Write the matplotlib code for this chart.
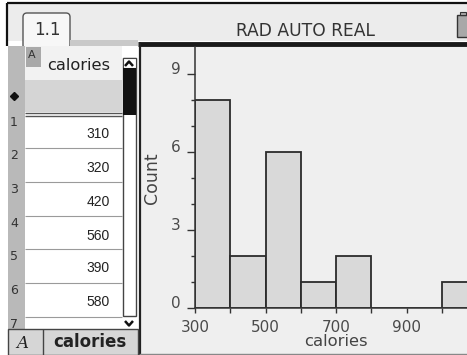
import matplotlib
matplotlib.use("Agg")
import matplotlib.pyplot as plt
from matplotlib.patches import Rectangle, FancyBboxPatch

# histogram data (calories, bin width 100)
bin_edges = [300, 400, 500, 600, 700, 800, 900, 1000, 1100]
counts = [8, 2, 6, 1, 2, 0, 0, 1]
x_ticks = [300, 500, 700, 900]
x_minor = [400, 600, 800, 1000]
y_ticks = [0, 3, 6, 9]
y_minor = [1, 2, 4, 5, 7, 8]

# spreadsheet rows visible on screen
row_ids = [1, 2, 3, 4, 5, 6, 7]
calories_shown = [310, 320, 420, 560, 390, 580]

W, H = 467, 355
fig = plt.figure(figsize=(W / 100, H / 100), dpi=100)

# pixel-space layer for the handheld screen chrome
ui = fig.add_axes([0, 0, 1, 1])
ui.set_xlim(0, W)
ui.set_ylim(H, 0)
ui.axis("off")


def box(x0, y0, x1, y1, fc, ec="none", lw=0, z=1):
    ui.add_patch(Rectangle((x0, y0), x1 - x0, y1 - y0, facecolor=fc,
                           edgecolor=ec, linewidth=lw, zorder=z))


def line(xs, ys, c="#333333", lw=1.0, z=3):
    ui.plot(xs, ys, color=c, linewidth=lw, zorder=z, solid_capstyle="butt")


# top status bar
box(8, 4, W, 41, "#ececec")
line([7, W], [3, 3], c="#111111", lw=1.6)
line([7, 7], [3, 46], c="#111111", lw=1.6)
ui.add_patch(FancyBboxPatch((23, 13), 47, 36, boxstyle="round,pad=0,rounding_size=4",
                            facecolor="#f7f7f7", edgecolor="#555555", linewidth=1.0, zorder=2))
ui.text(47, 30, "1.1", ha="center", va="center", fontsize=12, color="#333333", zorder=4)
ui.text(305, 31, "RAD AUTO REAL", ha="center", va="center", fontsize=12.3,
        color="#333333", zorder=4)
box(457, 15, 472, 37, "#a8a8a8", ec="#333333", lw=1.0, z=2)
box(460, 12, 466, 15, "#a8a8a8", ec="#333333", lw=0.8, z=2)
box(70, 40, 138, 46, "#c9c9c9", z=2)

# graph panel
box(139, 46, W, 355, "#efefef")
line([138, W], [43.5, 43.5], c="#1a1a1a", lw=3.5)
line([139.5, 139.5], [42, 355], c="#222222", lw=1.6)
line([139, W], [353.5, 353.5], c="#888888", lw=1.0)

# spreadsheet
box(8, 46, 138, 329, "#ffffff", z=3)
box(8, 46, 25, 329, "#b9b9b9", z=3)
box(25, 46, 122, 80, "#f2f2f2", z=3)
box(26, 47, 41, 67, "#a9a9a9", z=4)
ui.text(28, 55, "A", ha="left", va="center", fontsize=8, color="#333333", zorder=5)
ui.text(47, 66, "calories", ha="left", va="center", fontsize=11.7, color="#222222", zorder=5)
box(25, 80, 122, 112, "#d5d5d5", z=3)
ui.plot([14], [96], marker="D", markersize=4, color="#111111", zorder=5)
line([25, 122], [112.5, 112.5], c="#555555", lw=1.0, z=4)
line([25, 122], [115.5, 115.5], c="#555555", lw=1.0, z=4)

row_tops = [115, 148, 182, 216, 249, 283, 317]
for top in row_tops[1:]:
    line([25, 122], [top, top], c="#9a9a9a", lw=0.8, z=4)
for rid, top in zip(row_ids, row_tops):
    ui.text(10, top + 7.5, str(rid), ha="left", va="center", fontsize=9,
            color="#333333", zorder=5)
for val, top in zip(calories_shown, row_tops):
    ui.text(110, top + 19.5, str(val), ha="right", va="center", fontsize=10,
            family="Liberation Sans", color="#222222", zorder=5)

# scrollbar
box(122.5, 58, 136, 316, "#ffffff", ec="#444444", lw=1.0, z=4)
box(122.5, 58, 136, 68, "#ffffff", ec="#444444", lw=0.8, z=4)
box(123, 68, 135.5, 115, "#111111", z=5)
line([125, 129, 133], [66, 61.5, 66], c="#111111", lw=1.8, z=6)
line([125, 129, 133], [321, 325.5, 321], c="#111111", lw=1.8, z=6)

# bottom bar of the spreadsheet
box(8, 329, 138, 355, "#d6d6d6", ec="#444444", lw=1.0, z=7)
line([43, 43], [329, 355], c="#444444", lw=1.0, z=8)
ui.text(22, 343, "A", ha="center", va="center", fontsize=12, family="DejaVu Serif",
        style="italic", color="#222222", zorder=8)
ui.text(90, 342, "calories", ha="center", va="center", fontsize=12, fontweight="bold",
        color="#222222", zorder=8)

# axis titles
ui.text(336, 341, "calories", ha="center", va="center", fontsize=11.8, color="#444444", zorder=4)
ui.text(152, 178, "Count", ha="center", va="center", rotation=90, fontsize=12.5,
        color="#444444", zorder=4)

# histogram
ax = fig.add_axes([195 / W, (H - 308) / H, (W - 195) / W, (308 - 47) / H])
ax.patch.set_visible(False)
ax.hist(bin_edges[:-1], bins=bin_edges, weights=counts, color="#d9d9d9",
        edgecolor="#2b2b2b", linewidth=1.3)
ax.set_xlim(300, 300 + (W - 195) / 35.25 * 100)
ax.set_ylim(0, (308 - 47) / 26.0)
for side in ("top", "right"):
    ax.spines[side].set_visible(False)
for side in ("left", "bottom"):
    ax.spines[side].set_color("#333333")
    ax.spines[side].set_linewidth(1.1)

ax.set_xticks(x_ticks)
ax.set_xticks(x_minor, minor=True)
ax.set_yticks(y_ticks)
ax.set_yticks(y_minor, minor=True)
ax.tick_params(axis="x", which="both", direction="out", length=3.6, width=1.0,
               color="#333333", labelbottom=False)
ax.tick_params(axis="y", which="major", direction="out", length=5.8, width=1.0,
               color="#333333", labelleft=False)
ax.tick_params(axis="y", which="minor", direction="out", length=2.9, width=1.0,
               color="#333333")

for v in x_ticks:
    ax.annotate(str(v), xy=(v, 0), xycoords=ax.get_xaxis_transform(),
                xytext=(0, -19), textcoords="offset pixels", ha="center", va="center",
                fontsize=11, color="#4a4a4a", annotation_clip=False)
for v in y_ticks:
    ax.annotate(str(v), xy=(0, v), xycoords=ax.get_yaxis_transform(),
                xytext=(-14, 4), textcoords="offset pixels", ha="right", va="center",
                fontsize=11, color="#4a4a4a", annotation_clip=False)

fig.savefig("out.png", dpi=100)
